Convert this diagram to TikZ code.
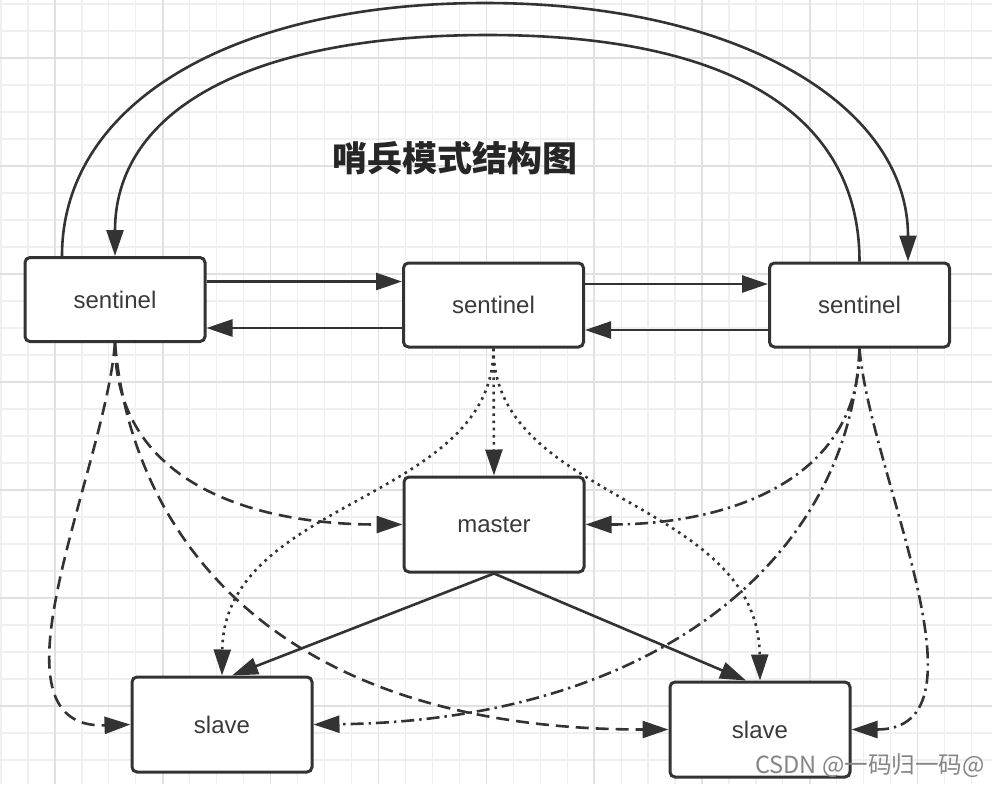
\documentclass[tikz,border=0pt]{standalone}
\usepackage{fontspec}
\setmainfont{Liberation Sans}
\newfontfamily\cjk{Noto Sans CJK SC}
\usepackage{tikz}
\usetikzlibrary{arrows.meta}
\usetikzlibrary{calc}
\usetikzlibrary{positioning}

\definecolor{linegray}{HTML}{333333}
\definecolor{textgray}{HTML}{3A3A3A}
\definecolor{minorgrid}{HTML}{EFEFEF}
\definecolor{majorgrid}{HTML}{E0E0E0}

\begin{document}
\begin{tikzpicture}[
        x=0.5pt, y=0.5pt,
        box/.style={rectangle, rounded corners=2.5pt, draw=linegray, fill=white, line width=1.5pt, minimum width=90pt, minimum height=42pt, inner sep=0pt, text=textgray, font=\fontsize{12}{14}\selectfont},
        lowbox/.style={box, minimum height=47.5pt},
        link/.style={draw=linegray, line width=1.3pt, -{Triangle[length=13pt,width=8.5pt]}},
        dashedlink/.style={link, dash pattern=on 6.5pt off 3.5pt},
        dottedlink/.style={link, dash pattern=on 1.3pt off 2.3pt},
        dashdotlink/.style={link, dash pattern=on 6.5pt off 2.5pt on 1.2pt off 2.5pt}
      ]
        \useasboundingbox (0,0) rectangle (992,-784);
        \fill[white] (0,0) rectangle (992,-784);

        % background grid
        \foreach \n in {-1,...,35} \draw[minorgrid, line width=0.6pt] ({28+26.96*\n},0) -- ({28+26.96*\n},-784);
        \foreach \n in {0,...,28} \draw[minorgrid, line width=0.6pt] (0,{-4-27*\n}) -- (992,{-4-27*\n});
        \foreach \n in {1,5,...,33} \draw[majorgrid, line width=0.7pt] ({28+26.96*\n},0) -- ({28+26.96*\n},-784);
        \foreach \n in {2,6,...,26} \draw[majorgrid, line width=0.7pt] (0,{-4-27*\n}) -- (992,{-4-27*\n});

        \node[box]     (sen1)   at (115,-299.5)   {sentinel};
        \node[box]     (sen2)   at (493.5,-305)   {sentinel};
        \node[box]     (sen3)   at (859.5,-305)   {sentinel};
        \node[lowbox]  (master) at (494,-524.5)   {master};
        \node[lowbox]  (slave1) at (222,-724.5)   {slave};
        \node[lowbox]  (slave2) at (760,-729.5)   {slave};

        \node[font=\cjk\bfseries\fontsize{17.5}{20}\selectfont, text=black!85] (title) at (455,-158) {哨兵模式结构图};

        % big arcs over the top
        \coordinate (outertop) at (485,-3);
        \coordinate (innertop) at (488,-35);
        \draw[link] ($(sen1.north)+(-53,0)$) .. controls +(0,152) and +(-254,0) .. (outertop)
                    .. controls +(254,0) and +(0,156) .. ($(sen3.north)+(48.5,0)$);
        \draw[link] (sen3.north) .. controls +(0,148) and +(241,0) .. (innertop)
                    .. controls +(-242,0) and +(0,144) .. (sen1.north);

        % sentinels talk to each other
        \draw[link] ([yshift=9pt]sen1.east) -- ([yshift=9pt]sen1.east -| sen2.west);
        \draw[link] ([yshift=-11.5pt]sen2.west) -- ([yshift=-11.5pt]sen2.west -| sen1.east);
        \draw[link] ([yshift=10.5pt]sen2.east) -- ([yshift=10.5pt]sen2.east -| sen3.west);
        \draw[link] ([yshift=-12.5pt]sen3.west) -- ([yshift=-12.5pt]sen3.west -| sen2.east);

        % left sentinel
        \draw[dashedlink] (sen1.south) .. controls +(0,-138) and +(-154,0) .. (master.west);
        \draw[dashedlink] (sen1.south) .. controls +(-10,-128) and +(-152,-5) .. (slave1.west);
        \draw[dashedlink] (sen1.south) .. controls +(15,-178) and +(-410,0) .. (slave2.west);

        % middle sentinel
        \draw[dottedlink] (sen2.south) -- (master.north);
        \draw[dottedlink] (sen2.south) .. controls +(0,-153) and +(2,177) .. (slave1.north);
        \draw[dottedlink] (sen2.south) .. controls +(0,-153) and +(-2,182) .. (slave2.north);

        % right sentinel
        \draw[dashdotlink] (sen3.south) .. controls +(0,-133) and +(141,0) .. (master.east);
        \draw[dashdotlink] (sen3.south) .. controls +(-10,-213) and +(338,4) .. (slave1.east);
        \draw[dashdotlink] (sen3.south) .. controls +(10,-123) and +(145,0) .. (slave2.east);

        % master to slaves
        \draw[link] (master.south) -- ([xshift=5pt]slave1.north);
        \draw[link] (master.south) -- ([xshift=-7pt]slave2.north);

        \node[font=\cjk\fontsize{11.8}{14}\selectfont, text=black!48] (mark) at (870,-766) {CSDN @一码归一码@};
      \end{tikzpicture}
\end{document}
